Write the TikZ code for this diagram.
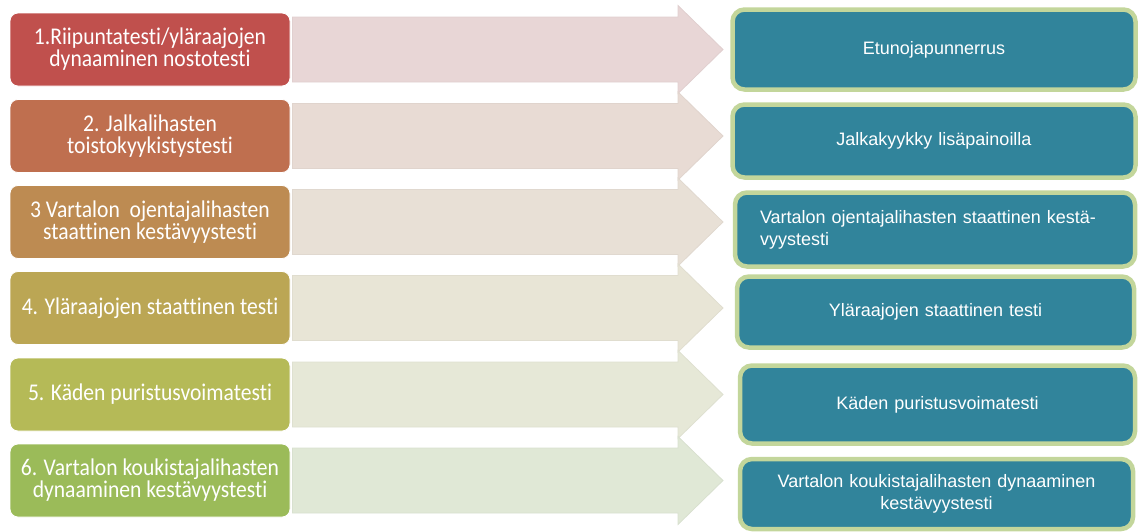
\documentclass[tikz,border=0pt]{standalone}
\usepackage{fontspec}
\setmainfont{Liberation Sans}
\newfontfamily\testfont[FakeStretch=0.9,Ligatures=NoCommon]{Carlito}
\usetikzlibrary{calc}

\definecolor{testA}{HTML}{C0504D}
\definecolor{testB}{HTML}{BF6F4F}
\definecolor{testC}{HTML}{BD8B52}
\definecolor{testD}{HTML}{BBA654}
\definecolor{testE}{HTML}{B5BA57}
\definecolor{testF}{HTML}{9BBB59}
\definecolor{arrA}{HTML}{E8D6D6}
\definecolor{arrB}{HTML}{E8DBD4}
\definecolor{arrC}{HTML}{E8E0D6}
\definecolor{arrD}{HTML}{E8E5D6}
\definecolor{arrE}{HTML}{E6E8D7}
\definecolor{arrF}{HTML}{E0E8D6}
\definecolor{teal}{HTML}{31849B}
\definecolor{rim}{HTML}{C3D69B}

\begin{document}
\begin{tikzpicture}[x=1pt,y=-1pt]
    \tikzstyle{test}=[rectangle,rounded corners=8pt,draw=white,line width=0.8pt,
        minimum width=280pt,minimum height=73pt,align=center,text=white,
        font=\testfont\fontsize{24}{22}\selectfont,inner sep=2pt]
    \tikzstyle{exercise}=[rectangle,rounded corners=12pt,draw=rim,fill=teal,line width=4.5pt,
        text width=370pt,align=center,text=white,font=\fontsize{18}{22}\selectfont,inner sep=0pt]
    \tikzstyle{blockarrow}=[line width=0.8pt]
    \useasboundingbox (0,0) rectangle (1141,531);

    % tests on the left
    \node[test,fill=testA] (t1) at (150,49.5) {1.Riipuntatesti/yläraajojen\\dynaaminen nostotesti};
    \node[test,fill=testB] (t2) at (150,136) {2. Jalkalihasten\\toistokyykistystesti};
    \node[test,fill=testC] (t3) at (150,222) {3 Vartalon\ \ ojentajalihasten\\staattinen kestävyystesti};
    \node[test,fill=testD] (t4) at (150,308) {4. Yläraajojen staattinen testi};
    \node[test,fill=testE] (t5) at (150,394.5) {5. Käden puristusvoimatesti};
    \node[test,fill=testF] (t6) at (150,480.5) {6. Vartalon koukistajalihasten\\dynaaminen kestävyystesti};

    % exercises on the right
    \node[exercise,minimum width=403pt,minimum height=80pt] (e1) at (934,49.5) {Etunojapunnerrus};
    \node[exercise,minimum width=403pt,minimum height=73pt] (e2) at (934,141) {Jalkakyykky lisäpainoilla};
    \node[exercise,minimum width=400pt,minimum height=74pt,text width=350pt,align=left] (e3) at (935,229.5) {Vartalon ojentajalihasten staattinen kestä-\\vyystesti};
    \node[exercise,minimum width=397pt,minimum height=71pt] (e4) at (935.5,312) {Yläraajojen staattinen testi};
    \node[exercise,minimum width=395pt,minimum height=78pt] (e5) at (937.5,404.5) {Käden puristusvoimatesti};
    \node[exercise,minimum width=393pt,minimum height=70pt] (e6) at (936.5,494) {Vartalon koukistajalihasten dynaaminen\\kestävyystesti};

    % block arrows between them
    \foreach \i/\c in {1/arrA,2/arrB,3/arrC,4/arrD,5/arrE,6/arrF}{
      \coordinate (s\i) at ($(t\i.east)+(2,0)$);
      \coordinate (h\i) at (678,0);
      \coordinate (p\i) at (723,0);
      \draw[blockarrow,fill=\c,draw=\c!92!gray]
        ($(s\i)+(0,-32.5)$) -- ($(h\i|-s\i)+(0,-32.5)$) -- ($(h\i|-s\i)+(0,-44)$)
        -- (p\i|-s\i) -- ($(h\i|-s\i)+(0,44)$) -- ($(h\i|-s\i)+(0,32.5)$)
        -- ($(s\i)+(0,32.5)$) -- cycle;
    }
\end{tikzpicture}
\end{document}
